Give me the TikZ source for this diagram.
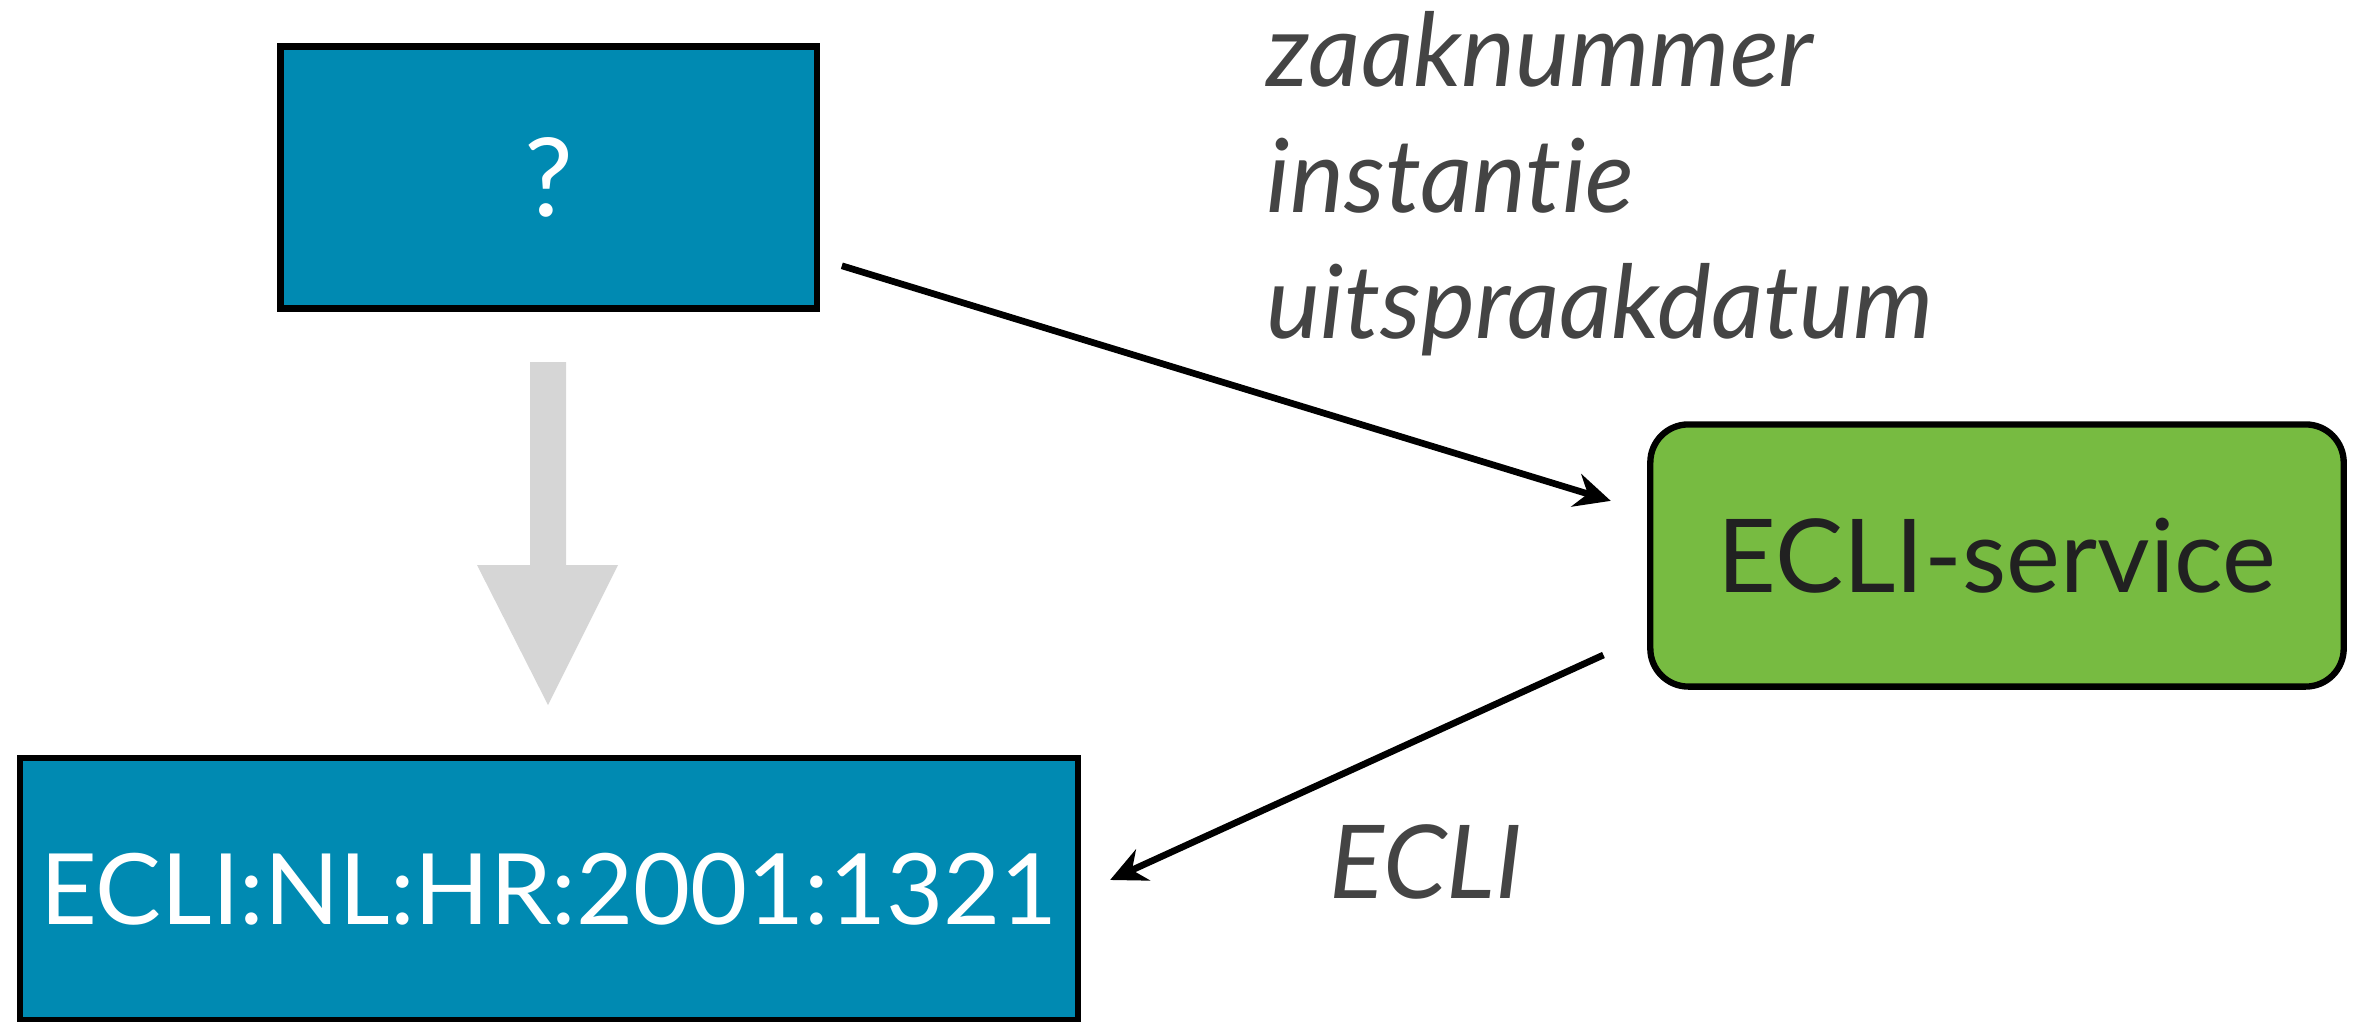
\documentclass[tikz,border=0pt]{standalone}
\usepackage{fontspec}
\setmainfont{Lato}[RawFeature=-liga]
\usetikzlibrary{arrows.meta}
\definecolor{caseblue}{HTML}{008AB2}
\definecolor{servicegreen}{HTML}{77BB41}
\definecolor{hintgray}{HTML}{D6D6D6}
\definecolor{labelgray}{HTML}{444444}
\begin{document}
\begin{tikzpicture}[x=0.01cm, y=-0.01cm,
    bluebox/.style={draw=black, line width=1.8pt, fill=caseblue, text=white,
        minimum height=2.62cm, font=\fontsize{28}{34}\selectfont},
    flow/.style={line width=1.9pt, -{Stealth[length=0.36cm, width=0.34cm, inset=0.12cm]}},
    param/.style={anchor=base west, inner sep=0pt, text=labelgray,
        font=\fontsize{29}{34}\selectfont\itshape}]
    \useasboundingbox (0,0) rectangle (2355,1021);

    % Boxes
    \node[bluebox, minimum width=5.36cm, font=\fontsize{31}{34}\selectfont] (unknown) at (548.5,177.5) {?};
    \node[bluebox, minimum width=10.57cm] (ecli) at (549,888.75) {ECLI:NL:HR:2001:1321};
    \node[draw=black, line width=1.8pt, fill=servicegreen, rounded corners=0.38cm,
        minimum width=6.93cm, minimum height=2.62cm, text=black!87,
        font=\fontsize{29}{34}\selectfont] (service) at (1997,555.5) {ECLI-service};

    % Big gray arrow down
    \fill[hintgray] (530,362) -- (566,362) -- (566,565) -- (618,565) -- (548,705)
        -- (477,565) -- (530,565) -- cycle;

    % Request and answer
    \draw[flow, shorten <=0.23cm, shorten >=0.38cm]
        ([yshift=-0.815cm]unknown.east) -- ([yshift=0.435cm]service.west);
    \draw[flow, shorten <=0.48cm, shorten >=0.32cm]
        ([yshift=-0.795cm]service.west) -- ([yshift=-0.045cm]ecli.east);

    % Labels
    \node[param] (zaak) at (1266,86) {zaaknummer};
    \node[param] (inst) at (1266,212) {instantie};
    \node[param] (datum) at (1266,338) {uitspraakdatum};
    \node[param] (answer) at (1329,898) {ECLI};
\end{tikzpicture}
\end{document}
